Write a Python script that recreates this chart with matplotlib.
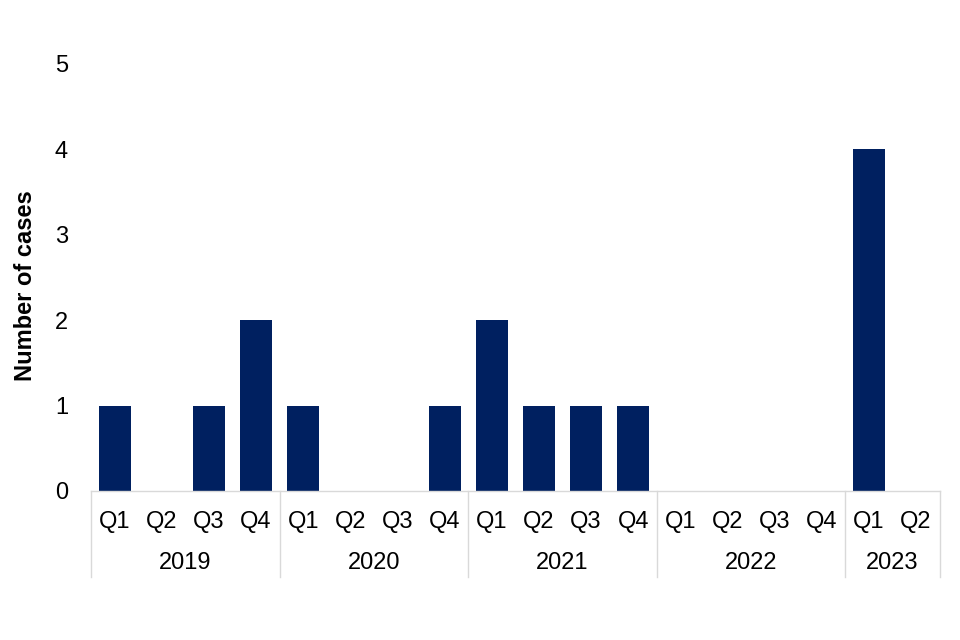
import matplotlib.pyplot as plt
import numpy as np

years = ["2019", "2020", "2021", "2022", "2023"]
quarters_per_year = [4, 4, 4, 4, 2]
quarter_labels = ["Q1", "Q2", "Q3", "Q4"] * 4 + ["Q1", "Q2"]
cases = [1, 0, 1, 2, 1, 0, 0, 1, 2, 1, 1, 1, 0, 0, 0, 0, 4, 0]

bar_color = "#002060"
line_color = "#d9d9d9"
fs = 17

plt.rcParams["font.family"] = ["Liberation Sans", "DejaVu Sans"]

fig = plt.figure(figsize=(9.6, 6.4), dpi=100)
ax = fig.add_axes([0.0948, 0.233, 0.884, 0.667])

x = np.arange(len(cases))
ax.bar(x, cases, width=0.68, color=bar_color)
ax.set_xlim(-0.5, len(cases) - 0.5)
ax.set_ylim(0, 5)
ax.set_yticks(range(0, 6))
ax.tick_params(axis="y", length=0, labelsize=fs, pad=16.5)
ax.set_xticks([])
for s in ["top", "right", "left"]:
    ax.spines[s].set_visible(False)
ax.spines["bottom"].set_color(line_color)
ax.spines["bottom"].set_linewidth(1)

ax.set_ylabel("Number of cases", fontsize=fs, fontweight="bold")
ax.yaxis.set_label_coords(-0.064, 0.48)

# quarter labels
for i, q in enumerate(quarter_labels):
    ax.text(i, -0.36, q, ha="center", va="center", fontsize=fs,
            transform=ax.transData, clip_on=False)

# year labels and separators
start = 0
edges = [-0.5]
for yr, n in zip(years, quarters_per_year):
    mid = start + (n - 1) / 2
    ax.text(mid, -0.85, yr, ha="center", va="center", fontsize=fs,
            transform=ax.transData, clip_on=False)
    start += n
    edges.append(start - 0.5)
for e in edges:
    ax.plot([e, e], [0, -1.01], color=line_color, lw=1, clip_on=False)

fig.savefig("out.png", dpi=100)
